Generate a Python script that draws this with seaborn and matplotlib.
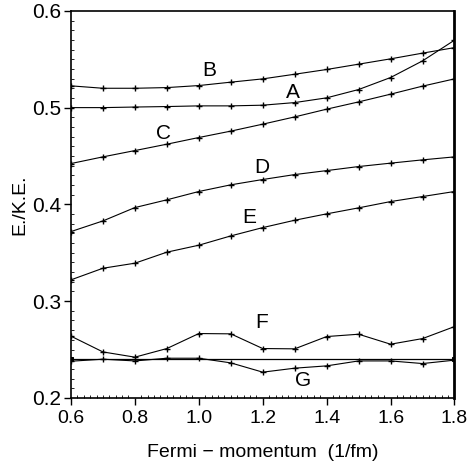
import numpy as np
import pandas as pd
import matplotlib
matplotlib.use("Agg")
import matplotlib.pyplot as plt
import seaborn as sns
from matplotlib.ticker import MultipleLocator

# Fermi momentum grid (1/fm)
kf = [0.6, 0.7, 0.8, 0.9, 1.0, 1.1, 1.2, 1.3, 1.4, 1.5, 1.6, 1.7, 1.8]

# E./K.E. ratio for each curve
curve_a = [0.500, 0.500, 0.5006, 0.5011, 0.5018, 0.5018, 0.5025, 0.5052, 0.5101, 0.5187, 0.5311, 0.5483, 0.5697]
curve_b = [0.5225, 0.520, 0.520, 0.5207, 0.5228, 0.5263, 0.5297, 0.5345, 0.5394, 0.5449, 0.5504, 0.5563, 0.562]
curve_c = [0.4422, 0.4491, 0.4556, 0.4622, 0.4691, 0.4757, 0.4829, 0.4904, 0.4984, 0.5059, 0.5139, 0.5222, 0.5297]
curve_d = [0.3719, 0.3829, 0.3967, 0.4047, 0.4133, 0.4202, 0.4257, 0.4308, 0.4349, 0.4391, 0.4426, 0.4460, 0.4491]
curve_e = [0.3220, 0.3340, 0.3392, 0.3506, 0.3578, 0.3674, 0.3760, 0.3836, 0.3902, 0.3964, 0.4029, 0.4081, 0.4133]
curve_f = [0.2638, 0.2475, 0.2421, 0.2510, 0.2665, 0.2662, 0.2510, 0.2507, 0.2634, 0.2658, 0.2555, 0.2613, 0.2737]
curve_g = [0.2379, 0.2400, 0.2382, 0.2410, 0.2410, 0.2362, 0.2266, 0.2307, 0.2331, 0.2382, 0.2382, 0.2355, 0.2390]

# flat reference line
flat_x = [0.6, 1.8]
flat_y = [0.2403, 0.2403]

# curve labels and where they sit
labels = ["A", "B", "C", "D", "E", "F", "G"]
label_x = [1.295, 1.034, 0.888, 1.198, 1.158, 1.198, 1.326]
label_y = [0.516, 0.538, 0.473, 0.438, 0.386, 0.2775, 0.218]

sns.set_theme(style="white")
plt.rcParams['font.family'] = ['Liberation Sans', 'DejaVu Sans']

fig = plt.figure(figsize=(4.7, 4.72), dpi=100)
ax = fig.add_axes([0.151, 0.157, 0.816, 0.820])

curves = [curve_a, curve_b, curve_c, curve_d, curve_e, curve_f, curve_g]
for vals in curves:
    sns.lineplot(x=kf, y=vals, ax=ax, color="black", linewidth=0.8,
                 marker="+", markersize=4, markeredgewidth=1.0,
                 markeredgecolor="black")

sns.lineplot(x=flat_x, y=flat_y, ax=ax, color="black", linewidth=0.9,
             marker="s", markersize=3, markeredgecolor="black")

for lab, lx, ly in zip(labels, label_x, label_y):
    ax.text(lx, ly, lab, fontsize=15, ha="center", va="center", color="black")

ax.set_xlim(0.6, 1.8)
ax.set_ylim(0.2, 0.6)
ax.xaxis.set_minor_locator(MultipleLocator(0.02))
ax.yaxis.set_minor_locator(MultipleLocator(0.01))
ax.set_xticks(np.arange(0.6, 1.81, 0.2))
ax.set_xticklabels(["0.6", "0.8", "1.0", "1.2", "1.4", "1.6", "1.8"])
ax.set_yticks(np.arange(0.2, 0.61, 0.1))
ax.set_yticklabels(["0.2", "0.3", "0.4", "0.5", "0.6"])

ax.tick_params(which="major", direction="out", length=5, width=1,
               labelsize=15, colors="black", pad=2)
ax.tick_params(axis="x", which="major", pad=4, labelsize=14)
ax.tick_params(which="minor", direction="in", length=2.5, width=0.6,
               colors="black")
ax.tick_params(top=False, right=False, which="both")
ax.tick_params(bottom=True, left=True, which="both")

for side in ["left", "bottom", "top"]:
    ax.spines[side].set_color("black")
    ax.spines[side].set_linewidth(1.2)
ax.spines["right"].set_color("black")
ax.spines["right"].set_linewidth(2)

ax.set_xlabel("Fermi \u2212 momentum  (1/fm)", fontsize=14, color="black", labelpad=12)
ax.set_ylabel("E./K.E.", fontsize=14, color="black", labelpad=3)

fig.savefig("out.png", dpi=100)
